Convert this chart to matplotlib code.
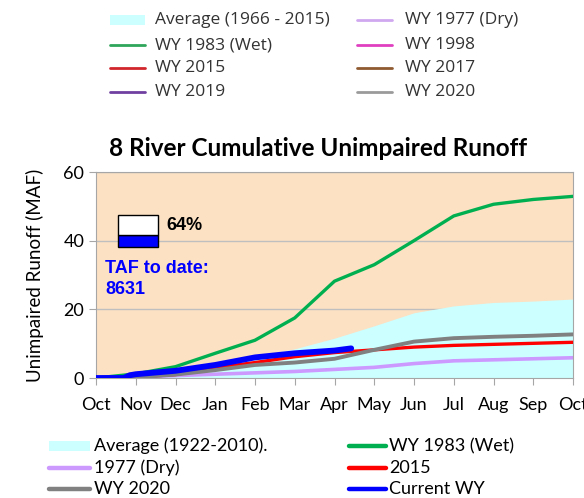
import matplotlib
matplotlib.use('Agg')
import matplotlib.pyplot as plt
from matplotlib.lines import Line2D
from matplotlib.patches import Rectangle

# month labels along the water year (Oct -> Oct)
months = ['Oct', 'Nov', 'Dec', 'Jan', 'Feb', 'Mar', 'Apr', 'May', 'Jun', 'Jul', 'Aug', 'Sep', 'Oct']
month_pos = list(range(len(months)))

# cumulative runoff (MAF) at the start of each month
avg_1922_2010 = [0, 0.7, 2.2, 4.2, 6.2, 8.5, 11.6, 15.2, 19.0, 21.0, 22.0, 22.4, 23.0]
wy_1983 = [0, 1.2, 3.3, 7.2, 11.0, 17.5, 28.2, 33.0, 40.0, 47.2, 50.6, 52.0, 52.9]
wy_1977 = [0, 0.3, 0.7, 1.1, 1.5, 1.9, 2.5, 3.1, 4.2, 5.0, 5.3, 5.6, 5.9]
wy_2015 = [0, 0.3, 1.0, 3.0, 4.5, 6.2, 7.4, 8.2, 9.0, 9.5, 9.8, 10.1, 10.4]
wy_2020 = [0, 0.2, 1.0, 2.3, 3.8, 4.5, 5.6, 8.2, 10.6, 11.6, 12.0, 12.3, 12.7]

# current water year, only to date
current_pos = [0, 0.7, 0.85, 1, 2, 3, 4, 5, 6, 6.42]
current_wy = [0, 0, 0.8, 1.1, 2.1, 3.8, 6.0, 7.2, 8.0, 8.63]

pct_of_avg = '64%'
taf_to_date = 'TAF to date:\n8631'

W, H = 584, 498
fig = plt.figure(figsize=(W / 100, H / 100), dpi=100)
ax = fig.add_axes([96 / W, 1 - 378 / H, (573 - 96) / W, (378 - 172) / H])

ax.set_facecolor('#FCE1C3')
ax.fill_between(month_pos, 0, avg_1922_2010, color='#CCFFFF', lw=0, zorder=1)
ax.plot(month_pos, wy_1977, color='#CC99FF', lw=2.6, zorder=2)
ax.plot(month_pos, wy_2015, color='#FF0000', lw=2.4, zorder=3)
ax.plot(month_pos, wy_2020, color='#808080', lw=2.8, zorder=4)
ax.plot(month_pos, wy_1983, color='#00B050', lw=2.4, zorder=5)
ax.plot(current_pos, current_wy, color='#0000FF', lw=4.2, solid_capstyle='round', zorder=6)

ax.set_xlim(0, 12)
ax.set_ylim(0, 60)
ax.set_yticks([0, 20, 40, 60])
ax.set_xticks(month_pos)
ax.set_xticklabels(months)
ax.yaxis.grid(True, color='#BFBFBF', lw=1)
ax.set_axisbelow(True)
for s in ax.spines.values():
    s.set_color('#A6A6A6')
ax.tick_params(axis='both', colors='#A6A6A6', length=5, labelcolor='black', labelsize=13)
ax.tick_params(axis='x', pad=9)
for lab in ax.get_xticklabels() + ax.get_yticklabels():
    lab.set_fontfamily('Lato')

ax.set_ylabel('Unimpaired Runoff (MAF)', fontsize=13.5, family='Lato', labelpad=14)
fig.text(318 / W, 1 - 148 / H, '8 River Cumulative Unimpaired Runoff', ha='center', va='center',
         fontsize=17.5, fontweight='bold', family='Lato')

# percent-of-average gauge box
fig.patches.append(Rectangle((118 / W, 1 - 247 / H), 40 / W, 12 / H, transform=fig.transFigure,
                             facecolor='#0000FF', edgecolor='black', lw=1))
fig.patches.append(Rectangle((118 / W, 1 - 235 / H), 40 / W, 20 / H, transform=fig.transFigure,
                             facecolor='white', edgecolor='black', lw=1))
fig.text(166 / W, 1 - 225 / H, pct_of_avg, ha='left', va='center', fontsize=13,
         fontweight='bold', family='Liberation Sans')
fig.text(105 / W, 1 - 279 / H, taf_to_date, ha='left', va='center', fontsize=13,
         fontweight='bold', family='Liberation Sans', color='#0000FF', linespacing=1.3)


def legend_row(x0, x1, y, label, color, lw, patch=False, tcolor='black', size=11.5,
               family='Lato', gap=8):
    if patch:
        fig.patches.append(Rectangle((x0 / W, 1 - (y + 5) / H), (x1 - x0) / W, 10 / H,
                                     transform=fig.transFigure, facecolor=color, lw=0))
    else:
        fig.lines.append(Line2D([x0 / W, x1 / W], [1 - y / H, 1 - y / H], transform=fig.transFigure,
                                color=color, lw=lw, solid_capstyle='round'))
    fig.text((x1 + gap) / W, 1 - y / H, label, ha='left', va='center', fontsize=size,
             family=family, color=tcolor)


# legend pasted at the top (faded)
top_rows = [20, 45, 68, 92]
top_left = [('Average (1966 - 2015)', '#CCFFFF'), ('WY 1983 (Wet)', '#2EA55A'),
            ('WY 2015', '#D0262C'), ('WY 2019', '#7040A0')]
top_right = [('WY 1977 (Dry)', '#CFA8F0'), ('WY 1998', '#E040C0'),
             ('WY 2017', '#8E5A30'), ('WY 2020', '#9A9A9A')]
for i, (lab, c) in enumerate(top_left):
    legend_row(110, 145, top_rows[i], lab, c, 2.0, patch=(i == 0), tcolor='#333333',
               size=12.5, family='Open Sans', gap=10)
for i, (lab, c) in enumerate(top_right):
    legend_row(357, 392, top_rows[i], lab, c, 2.0, tcolor='#333333',
               size=12.5, family='Open Sans', gap=13)

# chart legend at the bottom
bot_rows = [446, 468, 489]
bot_left = [('Average (1922-2010).', '#CCFFFF'), ('1977 (Dry)', '#CC99FF'), ('WY 2020', '#808080')]
bot_right = [('WY 1983 (Wet)', '#00B050'), ('2015', '#FF0000'), ('Current WY', '#0000FF')]
for i, (lab, c) in enumerate(bot_left):
    legend_row(49, 90, bot_rows[i], lab, c, 3.2, patch=(i == 0), size=13, gap=4)
for i, (lab, c) in enumerate(bot_right):
    legend_row(349, 386, bot_rows[i], lab, c, 3.2, size=13, gap=3)

fig.savefig('out.png', dpi=100)
